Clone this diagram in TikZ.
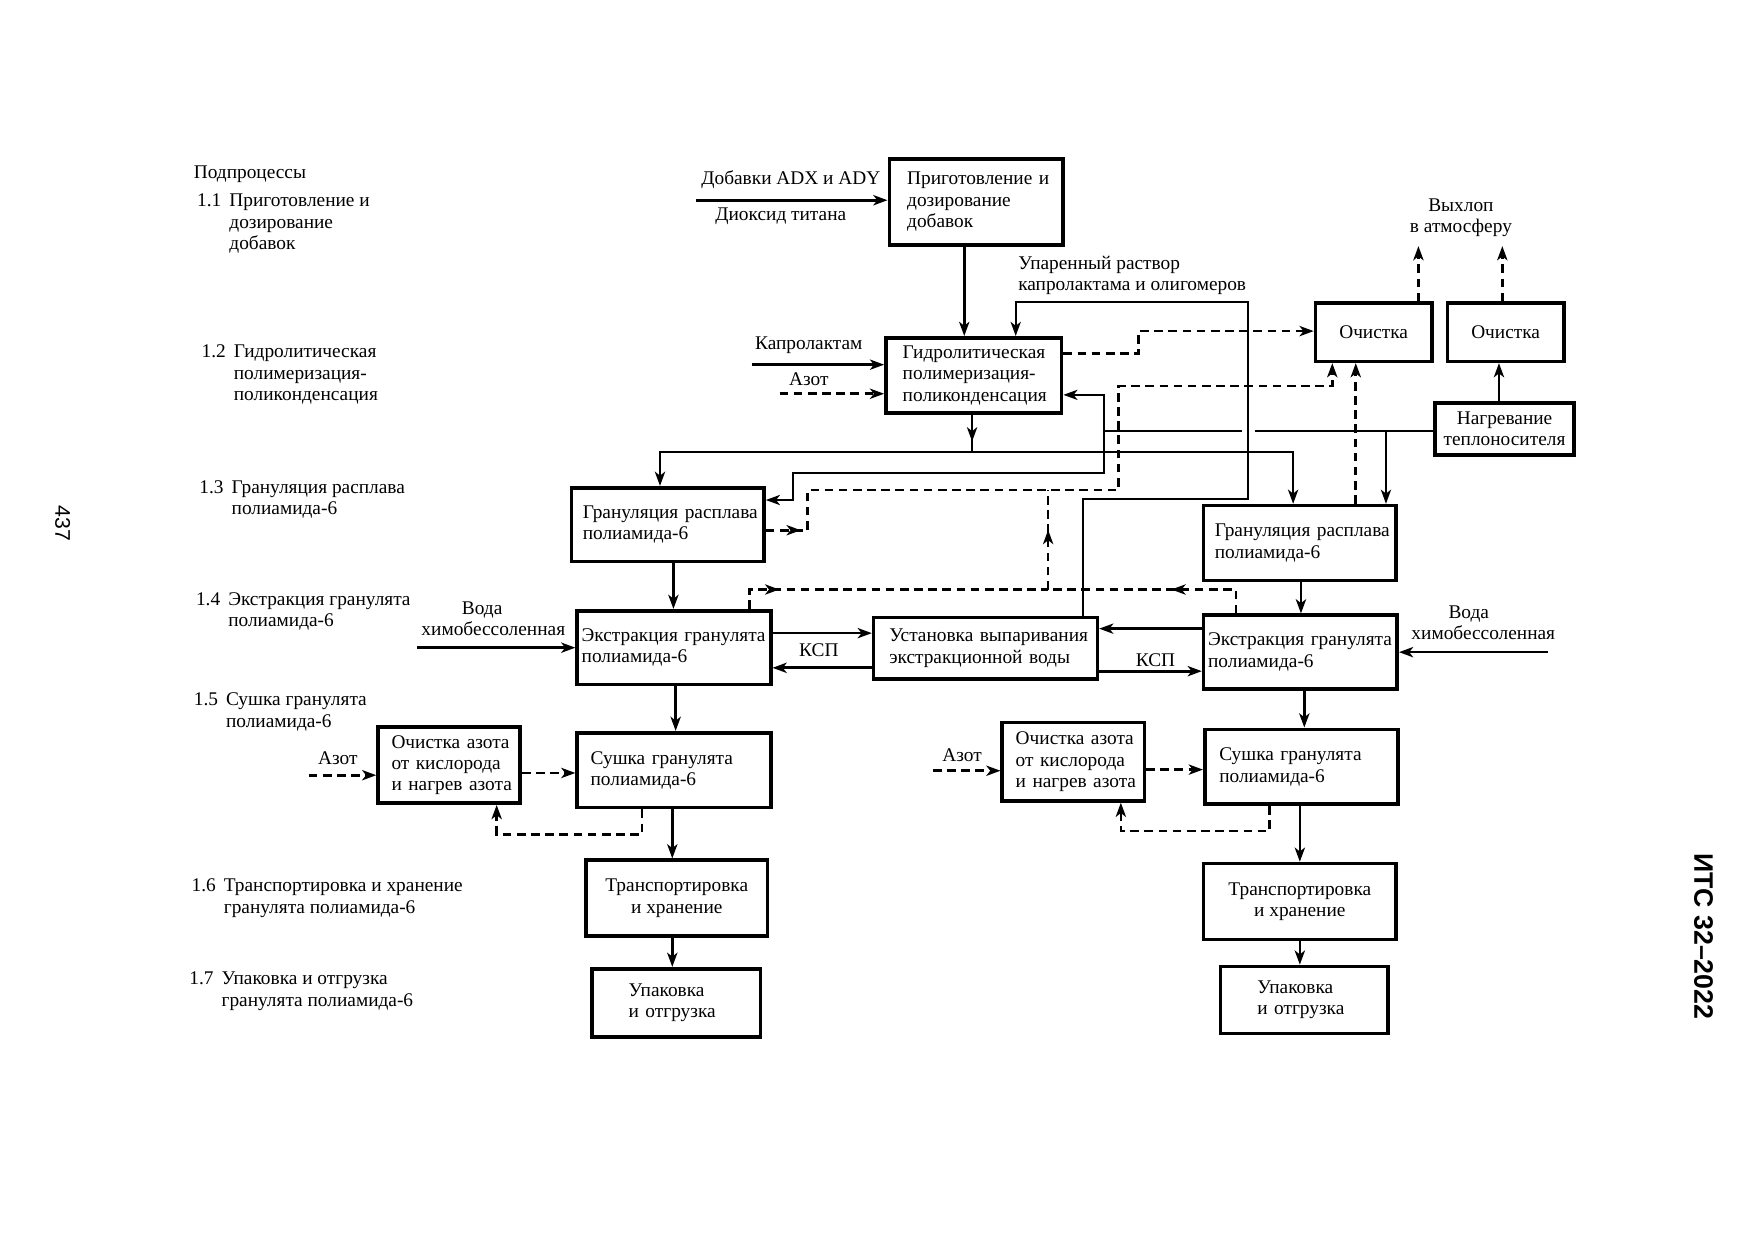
\documentclass[tikz,border=0pt]{standalone}
\usepackage{fontspec}
\setmainfont{Liberation Serif}
\newfontfamily\pagefont{Liberation Sans}
\usetikzlibrary{arrows.meta,decorations.markings}
\newcommand\subno[1]{\makebox[0.72cm][l]{#1}}
\newcommand\subin{\hspace*{0.72cm}}
\begin{document}
\begin{tikzpicture}[
   x=0.025cm,y=-0.025cm,
   font=\fontsize{12.3}{13.6}\selectfont,
   box/.style={draw,line width=2.3pt,align=left,inner sep=1pt},
   wh/.style 2 args={minimum width=#1*0.025cm,minimum height=#2*0.025cm},
   pad/.style 2 args={text width=#1*0.025cm,inner xsep=#2*0.025cm},
   arr/.style={-{Stealth[length=9pt,width=6.5pt,inset=2.5pt]}},
   pipe/.style={line width=1.7pt},
   flow/.style={pipe,arr},
   heat/.style={line width=1.2pt},
   dline/.style={line width=1.7pt,dash pattern=on 5.5pt off 3.5pt},
   gas/.style={dline,arr},
   arrowat/.style={postaction={decorate},decoration={markings,
      mark=at position #1 with {\arrow{Stealth[length=9pt,width=6.5pt,inset=2.5pt]}}}},
   lbl/.style={inner sep=0pt},
   leg/.style={inner sep=0pt,anchor=west,align=left}]
\useasboundingbox (0,0) rectangle (1568,1109);

\node[leg] (sub) at (173,156) {Подпроцессы};
\node[leg] (s11) at (176,200) {\subno{1.1}Приготовление и\\\subin дозирование\\\subin добавок};
\node[leg] (s12) at (180,335) {\subno{1.2}Гидролитическая\\\subin полимеризация-\\\subin поликонденсация};
\node[leg] (s13) at (178,446.5) {\subno{1.3}Грануляция расплава\\\subin полиамида-6};
\node[leg] (s14) at (175,546.5) {\subno{1.4}Экстракция гранулята\\\subin полиамида-6};
\node[leg] (s15) at (173,636.5) {\subno{1.5}Сушка гранулята\\\subin полиамида-6};
\node[leg] (s16) at (171,803) {\subno{1.6}Транспортировка и хранение\\\subin гранулята полиамида-6};
\node[leg] (s17) at (169,886) {\subno{1.7}Упаковка и отгрузка\\\subin гранулята полиамида-6};

\node[box,wh={155}{77},pad={123}{16}] (prep) at (872.5,180.5) {Приготовление~и\\дозирование\\добавок};
\node[box,wh={157}{67},pad={127}{15}] (hydro) at (870.5,335.5) {Гидролитическая\\полимеризация-\\поликонденсация};
\node[box,wh={104}{52},align=center] (och1) at (1228,297) {Очистка};
\node[box,wh={104}{52},align=center] (och2) at (1346,297) {Очистка};
\node[box,wh={124}{47},align=center] (nagr) at (1345,383.5) {Нагревание\\теплоносителя};
\node[box,wh={172}{66},pad={152}{10}] (granL) at (597,469) {Грануляция~расплава\\полиамида-6};
\node[box,wh={172}{67},pad={152}{10}] (granR) at (1162,485.5) {Грануляция~расплава\\полиамида-6};
\node[box,wh={173}{66},pad={165}{4}] (extL) at (602.5,579) {Экстракция~гранулята\\полиамида-6};
\node[box,wh={200}{55},pad={172}{14}] (evap) at (881,579.5) {Установка~выпаривания\\экстракционной~воды};
\node[box,wh={173}{66},pad={165}{4}] (extR) at (1162.5,583) {Экстракция~гранулята\\полиамида-6};
\node[box,wh={127}{68},pad={103}{12}] (n2L) at (401.5,684) {Очистка~азота\\от~кислорода\\и~нагрев~азота};
\node[box,wh={173}{67},pad={149}{12}] (dryL) at (602.5,688.5) {Сушка~гранулята\\полиамида-6};
\node[box,wh={162}{68},align=center] (trL) at (605,803) {Транспортировка\\и хранение};
\node[box,wh={151}{61},pad={85}{33}] (packL) at (604.5,896.5) {Упаковка\\и~отгрузка};
\node[box,wh={127}{70},pad={103}{12}] (n2R) at (959.5,681) {Очистка~азота\\от~кислорода\\и~нагрев~азота};
\node[box,wh={173}{67},pad={147}{13}] (dryR) at (1163.5,685.5) {Сушка~гранулята\\полиамида-6};
\node[box,wh={172}{68},align=center] (trR) at (1162,806) {Транспортировка\\и хранение};
\node[box,wh={150}{60},pad={84}{33}] (packR) at (1166,894) {Упаковка\\и~отгрузка};

\node[lbl] (addA) at (707,161) {Добавки ADX и ADY};
\node[lbl] (addB) at (698,193) {Диоксид титана};
\node[lbl,anchor=west,align=left] (ret) at (910,246.5) {Упаренный раствор\\капролактама и олигомеров};
\node[lbl] (kap) at (723,309) {Капролактам};
\node[lbl] (azH) at (723,339) {Азот};
\node[lbl,align=center] (exh) at (1306,194.5) {Выхлоп\\в атмосферу};
\node[lbl] (wLa) at (431,545) {Вода};
\node[lbl] (wLb) at (441,562) {химобессоленная};
\node[lbl] (kspL) at (732,581) {КСП};
\node[lbl] (kspR) at (1033,590) {КСП};
\node[lbl] (wRa) at (1313,549) {Вода};
\node[lbl] (wRb) at (1326,566) {химобессоленная};
\node[lbl] (azL) at (302,678) {Азот};
\node[lbl] (azR) at (860,675) {Азот};
\node[rotate=-90,font=\pagefont\fontsize{13.5}{16}\selectfont] (pgno) at (56,468) {437};
\node[rotate=-90,font=\pagefont\bfseries\fontsize{17}{20}\selectfont] (its) at (1523,837) {ИТС 32–2022};

\coordinate (addIn) at (622,179);
\draw[flow] (addIn) -- (addIn -| prep.west);
\draw[flow] (862,0 |- prep.south) -- (862,0 |- hydro.north);
\draw[heat,arr] (968,0 |- evap.north) |- (1116,446) |- (908,270) -- (908,0 |- hydro.north);
\coordinate (kapIn) at (672,326);
\draw[flow] (kapIn) -- (kapIn -| hydro.west);
\coordinate (azIn) at (697,352);
\draw[gas] (azIn) -- (azIn -| hydro.west);
\draw[gas] (0,316 -| hydro.east) -| (1018,296) -- (0,296 -| och1.west);
\coordinate (melt) at (869,404);
\draw[pipe,arrowat=0.6cm] (melt |- hydro.south) -- (melt);
\draw[flow] (melt) -| (590,0 |- granL.north);
\draw[flow] (melt) -| (1156,0 |- granR.north);

\draw[heat] (0,385 -| nagr.west) -- (1122,385);
\draw[heat,arr] (1110,385) -| (987,353) -- (0,353 -| hydro.east);
\draw[heat,arr] (987,385) |- (709,423) |- (0,447 -| granL.east);
\draw[heat,arr] (1239,385) -- (1239,0 |- granR.north);
\draw[flow] (1340,0 |- nagr.north) -- (1340,0 |- och2.south);

\coordinate (out1) at (1268,220);
\coordinate (out2) at (1343,220);
\draw[gas] (out1 |- och1.north) -- (out1);
\draw[gas] (out2 |- och2.north) -- (out2);

\draw[gas,arrowat=0.78cm] (0,474 -| granL.east) -| (722,438) -| (1000,345) -| (1191,0 |- och1.south);
\draw[gas] (1212,0 |- granR.north) -- (1212,0 |- och1.south);
\coordinate (vj) at (937,527);
\draw[dline,arrowat=1.33cm] (vj) -- (937,438);
\draw[dline,arrowat=1.1cm] (670,0 |- extL.north) |- (vj);
\draw[dline,arrowat=1.98cm] (1105,0 |- extR.north) |- (vj);

\draw[flow] (602,0 |- granL.south) -- (602,0 |- extL.north);
\coordinate (wIn) at (373,579);
\draw[flow] (wIn) -- (wIn -| extL.west);
\draw[flow] (0,566 -| extL.east) -- (0,566 -| evap.west);
\draw[flow] (0,597 -| evap.west) -- (0,597 -| extL.east);
\draw[flow] (0,562 -| extR.west) -- (0,562 -| evap.east);
\draw[flow] (0,600 -| evap.east) -- (0,600 -| extR.west);
\draw[flow] (1163,0 |- granR.south) -- (1163,0 |- extR.north);
\coordinate (wInR) at (1384,583);
\draw[flow] (wInR) -- (wInR -| extR.east);

\draw[flow] (604,0 |- extL.south) -- (604,0 |- dryL.north);
\coordinate (azLIn) at (276,693);
\draw[gas] (azLIn) -- (azLIn -| n2L.west);
\draw[gas] (0,691 -| n2L.east) -- (0,691 -| dryL.west);
\draw[gas] (574,0 |- dryL.south) |- (444,746) -- (444,0 |- n2L.south);
\draw[flow] (601,0 |- dryL.south) -- (601,0 |- trL.north);
\draw[flow] (601,0 |- trL.south) -- (601,0 |- packL.north);

\draw[flow] (1166,0 |- extR.south) -- (1166,0 |- dryR.north);
\coordinate (azRIn) at (834,689);
\draw[gas] (azRIn) -- (azRIn -| n2R.west);
\draw[gas] (0,688 -| n2R.east) -- (0,688 -| dryR.west);
\draw[gas] (1135,0 |- dryR.south) |- (1002,743) -- (1002,0 |- n2R.south);
\draw[flow] (1162,0 |- dryR.south) -- (1162,0 |- trR.north);
\draw[flow] (1162,0 |- trR.south) -- (1162,0 |- packR.north);
\end{tikzpicture}
\end{document}
